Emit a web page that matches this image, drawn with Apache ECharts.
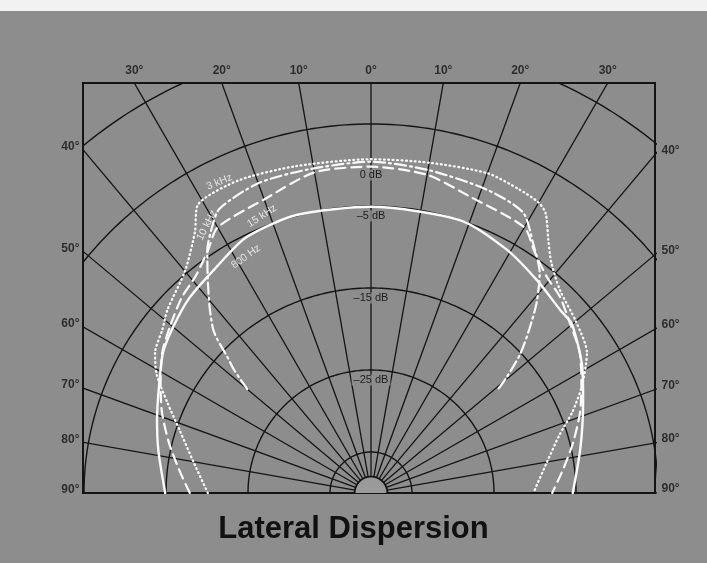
<!DOCTYPE html>
<html><head><meta charset="utf-8">
<script src="https://cdn.jsdelivr.net/npm/echarts@6/dist/echarts.min.js"></script>
<style>html,body{margin:0;padding:0;background:#fff}#c{width:707px;height:563px}</style>
</head><body><div id="c"></div>
<script>
// ---- data (angles in degrees from the axis, negative = left; levels in dB) ----
const refRadius = 40;                       // radius of 0 dB on the chart's radial scale (dB + 40)
const ringLevels = [-35, -25, -15, -5, 5, 15];
const hubLevel = -38;
const spokeAngles = [-90,-80,-70,-60,-50,-40,-30,-20,-10,0,10,20,30,40,50,60,70,80,90];
const topTickAngles = [-30,-20,-10,0,10,20,30];
const sideTickAngles = [40,50,60,70,80,90];
const dbLabelLevels = [0, -5, -15, -25];
const dbLabelTexts = ['0 dB', '\u20135 dB', '\u201315 dB', '\u201325 dB'];

const angles3kHz = [-90,-80,-72,-66,-61,-57,-52,-48,-40,-34,-31,-23,-13,0,10,20,26,30,32,35,38,43,50,57,63,68,73,80,90];
const levels3kHz = [-20.1,-18.0,-15.5,-12.8,-10.1,-8.6,-7.7,-6.6,-4.7,-1.6,1.0,1.4,0.9,0.7,0.9,1.5,1.2,0.9,0.2,-2.3,-4.3,-6.2,-7.4,-8.6,-11.1,-13.5,-16.0,-18.2,-20.2];

const angles10kHz = [-50,-48,-46.5,-45,-44,-41,-37,-34,-31,-28,-20,-11,0,10,21,28.5,33,37.5,41,44,47,49.5,51];
const levels10kHz = [-20.3,-17.5,-15.8,-13.5,-12.3,-10.0,-6.9,-4.3,-2.3,-0.7,0.2,0.2,0.4,0.0,-0.4,-1.1,-3.7,-6.2,-9.2,-12.2,-15.1,-18.2,-20.3];

const angles15kHz = [-90,-83,-76,-69,-63,-56,-50,-44,-39,-34,-30,-20,-10,0,10,18.5,30,34,39,44,49.5,56,63,69,76,83,90];
const levels15kHz = [-17.9,-16.4,-14.6,-12.7,-11.2,-9.3,-8.1,-6.8,-6.0,-4.4,-2.6,-1.9,-0.3,-0.2,-0.6,-1.9,-2.6,-4.4,-6.0,-6.8,-8.1,-9.3,-11.2,-12.7,-14.6,-16.4,-17.9];

const angles800Hz = [-90,-79,-71,-63,-56,-50,-43,-35,-26,-15,0,18,29,38,46,50,60,67,78,90];
const levels800Hz = [-14.9,-13.6,-12.4,-11.0,-9.4,-8.5,-7.5,-6.7,-5.3,-4.9,-5.1,-5.0,-6.0,-7.1,-7.9,-8.0,-10.2,-11.9,-13.9,-15.4];

const curveNames = ['3 kHz', '10 kHz', '15 kHz', '800 Hz'];
// where each curve's name is written (angle, level) and its tilt
const curveLabelAngles = [-26, -31.5, -21.5, -27.9];
const curveLabelLevels = [2.2, -1.7, -3.7, -7.4];
const curveLabelTilt = [22, 63, 33, 36];

const titleText = 'Lateral Dispersion';

// ---- layout ----
const frame = {left: 83, top: 83, width: 572, height: 410};
const pxPerDb = 8.2;
const centerFromLeft = 288;
const xMin = -centerFromLeft / pxPerDb;
const xMax = (frame.width - centerFromLeft) / pxPerDb;
const yMax = frame.height / pxPerDb;

const gray = '#8d8d8d';
const ink = '#141414';
const white = '#fafafa';

function pt(angleDeg, level) {
  const r = level + refRadius;
  const a = angleDeg * Math.PI / 180;
  return [r * Math.sin(a), r * Math.cos(a)];
}
function arc(level) {
  const d = [];
  for (let a = -90; a <= 90; a += 1) d.push(pt(a, level));
  return d;
}

const series = [];
ringLevels.forEach(l => series.push({type:'line', data: arc(l), symbol:'none', silent:true, clip:true,
  lineStyle:{color: ink, width: 1.4}, z: 1}));
series.push({type:'line', data: arc(hubLevel), symbol:'none', silent:true, clip:true,
  lineStyle:{color: ink, width: 1.8}, areaStyle:{color:'#9a9a9a', opacity:1}, z: 2});
spokeAngles.forEach(a => series.push({type:'line', data:[pt(a, hubLevel), pt(a, 60)], symbol:'none', silent:true, clip:true,
  lineStyle:{color: ink, width: 1.3}, z: 1}));

function curve(angles, levels, dash, width) {
  return {type:'line', data: angles.map((a, i) => pt(a, levels[i])), symbol:'none', smooth: 0.25, clip:true, silent:true,
    lineStyle:{color: white, width: width, type: dash, cap:'round'}, z: 3};
}
series.push(curve(angles3kHz, levels3kHz, [0.8, 3.6], 2.3));
series.push(curve(angles10kHz, levels10kHz, [11, 4, 2, 4], 2.2));
series.push(curve(angles15kHz, levels15kHz, [10, 6], 2.2));
series.push(curve(angles800Hz, levels800Hz, 'solid', 2.4));

const labelFont = {fontFamily: 'Liberation Sans, Arial, sans-serif', fontWeight: 'bold', fontSize: 12, color: ink};
const tickData = [];
topTickAngles.forEach(a => {
  tickData.push({value:[yMax * Math.tan(a * Math.PI / 180), yMax], label: Object.assign({show:true, position:'top', distance:6,
    formatter: Math.abs(a) + '\u00b0'}, labelFont)});
});
sideTickAngles.forEach(a => {
  const t = Math.tan(a * Math.PI / 180);
  tickData.push({value:[xMin, -xMin / t], label: Object.assign({show:true, position:'left', distance:3, offset:[0,-3],
    formatter: a + '\u00b0'}, labelFont)});
  tickData.push({value:[xMax, xMax / t], label: Object.assign({show:true, position:'right', distance:6, offset:[0,-4],
    formatter: a + '\u00b0'}, labelFont)});
});
series.push({type:'scatter', data: tickData, symbolSize: 1, itemStyle:{color:'rgba(0,0,0,0)'}, clip:false, silent:true, z: 5});

series.push({type:'scatter', clip:false, silent:true, z: 6, symbolSize: 1, itemStyle:{color:'rgba(0,0,0,0)'},
  data: dbLabelLevels.map((l, i) => ({value: pt(0, l), label: {show:true, position:'inside', offset:[0, 10], formatter: dbLabelTexts[i],
    fontFamily:'Liberation Sans, Arial, sans-serif', fontSize: 11, color: '#000', backgroundColor: gray, padding:[0,2]}}))});

series.push({type:'scatter', clip:false, silent:true, z: 6, symbolSize: 1, itemStyle:{color:'rgba(0,0,0,0)'},
  data: curveNames.map((n, i) => ({value: pt(curveLabelAngles[i], curveLabelLevels[i]), label: {show:true, position:'inside',
    rotate: curveLabelTilt[i], formatter: n, fontFamily:'Liberation Sans, Arial, sans-serif', fontSize: 10.5, color: white}}))});

const chart = echarts.init(document.getElementById('c'), null, {renderer:'canvas'});
chart.setOption({
  animation: false,
  backgroundColor: gray,
  graphic: [{type:'rect', shape:{x:0, y:0, width:707, height:11}, style:{fill:'#f2f2f2'}, z:-1, silent:true}],
  title: {text: titleText, left: 'center', top: 509,
    textStyle: {fontFamily:'Liberation Sans, Arial, sans-serif', fontWeight:'bold', fontSize: 31, color: '#111'}},
  grid: {left: frame.left, top: frame.top, width: frame.width, height: frame.height, show: true,
    borderColor: ink, borderWidth: 2, backgroundColor: 'transparent'},
  xAxis: {type:'value', min: xMin, max: xMax, show: false},
  yAxis: {type:'value', min: 0, max: yMax, show: false},
  tooltip: {show:false},
  series: series
});
</script></body></html>
